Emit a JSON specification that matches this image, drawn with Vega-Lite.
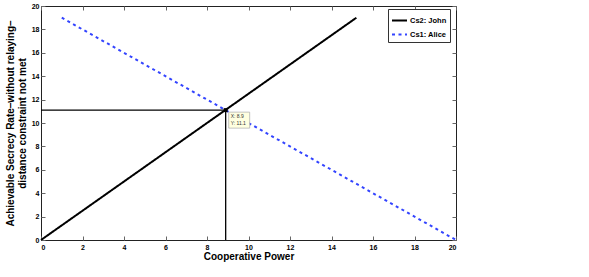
{
  "$schema": "https://vega.github.io/schema/vega-lite/v6.json",
  "width": 415,
  "height": 234,
  "autosize": "none",
  "padding": {"left": 41, "top": 6, "right": 133, "bottom": 37},
  "background": "white",
  "config": {
    "font": "Liberation Sans",
    "view": {"stroke": "#222222", "strokeWidth": 1},
    "axis": {
      "grid": false,
      "domain": false,
      "tickColor": "#666666",
      "tickWidth": 1,
      "tickSize": -4,
      "labelFont": "Liberation Sans",
      "labelFontWeight": "bold",
      "labelFontSize": 7,
      "labelColor": "#000000",
      "titleFont": "Liberation Sans",
      "titleFontWeight": "bold",
      "titleColor": "#000000",
      "titleFontSize": 10
    }
  },
  "datasets": {
    "lines": [
      {"series": "Cs2: John", "x": 0, "y": 0},
      {"series": "Cs2: John", "x": 15.2, "y": 19},
      {"series": "Cs1: Alice", "x": 1, "y": 19},
      {"series": "Cs1: Alice", "x": 20, "y": 0}
    ],
    "cross": [
      {"x": 0, "y": 11.1, "x2": 8.9, "y2": 11.1},
      {"x": 8.9, "y": 0, "x2": 8.9, "y2": 11.1}
    ],
    "tip": [
      {"x": 8.9, "y": 11.1, "label": "X: 8.9\nY: 11.1"}
    ]
  },
  "layer": [
    {
      "data": {"name": "cross"},
      "mark": {"type": "rule", "color": "#000000", "strokeWidth": 1.3},
      "encoding": {
        "x": {"field": "x", "type": "quantitative", "scale": {"domain": [0, 20], "nice": false},
              "axis": {"orient": "bottom", "values": [0,2,4,6,8,10,12,14,16,18,20], "title": "Cooperative Power", "labelPadding": 7, "titlePadding": 1}},
        "y": {"field": "y", "type": "quantitative", "scale": {"domain": [0, 20], "nice": false},
              "axis": {"orient": "left", "values": [0,2,4,6,8,10,12,14,16,18,20], "title": ["Achievable Secrecy Rate–without relaying–", "distance constraint not met"], "labelPadding": 6, "titlePadding": 4}},
        "x2": {"field": "x2"},
        "y2": {"field": "y2"}
      }
    },
    {
      "data": {"name": "lines"},
      "mark": {"type": "line", "strokeWidth": 2},
      "encoding": {
        "x": {"field": "x", "type": "quantitative", "axis": null},
        "y": {"field": "y", "type": "quantitative", "axis": null},
        "color": {"field": "series", "type": "nominal",
                  "scale": {"domain": ["Cs2: John", "Cs1: Alice"], "range": ["#000000", "#3344ff"]},
                  "legend": {"title": null, "orient": "none", "legendX": 347, "legendY": 3,
                             "strokeColor": "#333333", "fillColor": "#ffffff", "padding": 3,
                             "symbolType": "stroke", "symbolSize": 225, "symbolStrokeWidth": 2,
                             "labelFont": "Liberation Sans", "labelFontWeight": "bold", "labelFontSize": 7.5,
                             "labelColor": "#000000", "labelOffset": 2, "rowPadding": 1}},
        "strokeDash": {"field": "series", "type": "nominal",
                       "scale": {"domain": ["Cs2: John", "Cs1: Alice"], "range": [[1, 0], [3, 3.5]]},
                       "legend": {"title": null, "orient": "none", "legendX": 347, "legendY": 3,
                             "strokeColor": "#333333", "fillColor": "#ffffff", "padding": 3,
                             "symbolType": "stroke", "symbolSize": 225, "symbolStrokeWidth": 2,
                             "labelFont": "Liberation Sans", "labelFontWeight": "bold", "labelFontSize": 7.5,
                             "labelColor": "#000000", "labelOffset": 2, "rowPadding": 1}}
      }
    },
    {
      "data": {"name": "tip"},
      "mark": {"type": "rect", "width": 21, "height": 16, "xOffset": 13.5, "yOffset": 10, "fill": "#ffffe0", "stroke": "#aaaaaa", "strokeWidth": 0.7},
      "encoding": {
        "x": {"field": "x", "type": "quantitative", "axis": null},
        "y": {"field": "y", "type": "quantitative", "axis": null}
      }
    },
    {
      "data": {"name": "tip"},
      "mark": {"type": "point", "shape": "square", "size": 16, "filled": true, "color": "#000000", "opacity": 1},
      "encoding": {
        "x": {"field": "x", "type": "quantitative", "axis": null},
        "y": {"field": "y", "type": "quantitative", "axis": null}
      }
    },
    {
      "data": {"name": "tip"},
      "mark": {"type": "text", "align": "left", "baseline": "top", "dx": 5, "dy": 4, "fontSize": 5, "lineBreak": "\n", "lineHeight": 7, "color": "#333333", "font": "Liberation Sans"},
      "encoding": {
        "x": {"field": "x", "type": "quantitative", "axis": null},
        "y": {"field": "y", "type": "quantitative", "axis": null},
        "text": {"field": "label"}
      }
    },
    {
      "data": {"name": "tip"},
      "mark": {"type": "rule", "opacity": 0},
      "encoding": {
        "x": {"field": "x", "type": "quantitative",
              "axis": {"orient": "top", "values": [0,2,4,6,8,10,12,14,16,18,20], "labels": false, "title": null}},
        "y": {"field": "y", "type": "quantitative",
              "axis": {"orient": "right", "values": [0,2,4,6,8,10,12,14,16,18,20], "labels": false, "title": null}}
      }
    }
  ],
  "resolve": {"axis": {"x": "independent", "y": "independent"}}
}
